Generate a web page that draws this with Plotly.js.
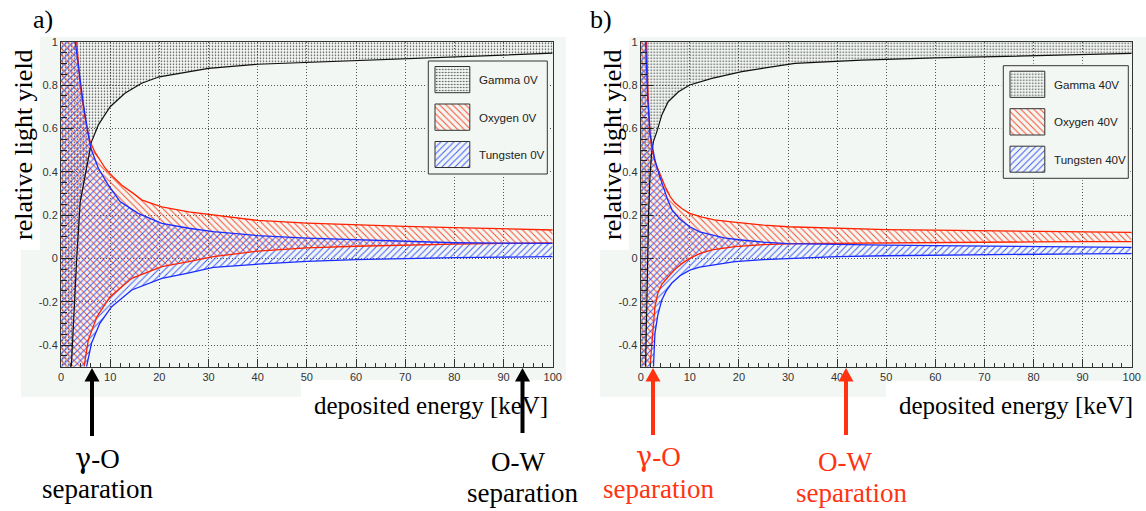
<!DOCTYPE html>
<html><head><meta charset="utf-8">
<script src="https://cdn.plot.ly/plotly-3.0.1.min.js"></script>
<style>html,body{margin:0;padding:0;background:#fff}</style>
</head><body>
<div id="chart" style="width:1146px;height:511px"></div>
<script>
// ---------------- DATA ----------------
// Panel a) : 0V
const gammaA_x  = [0, 2.1, 2.6, 3.2, 3.9, 4.5, 5.2, 6.2, 7.6, 10, 13, 16.4, 20, 26, 30, 40, 50, 60, 70, 80, 90, 100];
const gammaA_lo = [-0.5, -0.5, -0.25, 0.0, 0.26, 0.335, 0.416, 0.538, 0.616, 0.70, 0.762, 0.808, 0.838, 0.862, 0.877, 0.896, 0.905, 0.913, 0.922, 0.932, 0.940, 0.947];
const gammaTopX = [0, 100];
const gammaTop  = [1, 1];

const oxyA_hiX = [0, 3.2, 3.9, 4.9, 5.9, 6.9, 9, 10, 12.3, 14.7, 16.4, 18.4, 20.5, 26, 31, 40, 50, 60, 70, 80, 90, 100];
const oxyA_hi  = [1, 1, 0.80, 0.646, 0.54, 0.49, 0.416, 0.39, 0.339, 0.30, 0.27, 0.254, 0.238, 0.215, 0.20, 0.175, 0.163, 0.154, 0.148, 0.142, 0.136, 0.131];
const oxyA_loX = [0, 4.7, 5.55, 7.3, 10, 14.4, 20.5, 26, 31, 40, 50, 60, 70, 80, 90, 100];
const oxyA_lo  = [-0.5, -0.5, -0.377, -0.27, -0.177, -0.092, -0.038, -0.015, 0.008, 0.033, 0.048, 0.056, 0.062, 0.066, 0.069, 0.071];

const tunA_hiX = [0, 2.9, 3.5, 4.5, 5.55, 6.2, 7.6, 9.6, 12, 15.7, 20.5, 26, 31, 40, 50, 60, 70, 80, 90, 100];
const tunA_hi  = [1, 1, 0.89, 0.72, 0.57, 0.50, 0.416, 0.339, 0.262, 0.208, 0.162, 0.139, 0.123, 0.105, 0.093, 0.085, 0.078, 0.072, 0.070, 0.069];
const tunA_loX = [0, 5.2, 6.2, 7.9, 10.3, 14.4, 20.5, 25.6, 31, 40, 50, 60, 70, 80, 90, 100];
const tunA_lo  = [-0.5, -0.5, -0.392, -0.30, -0.223, -0.146, -0.092, -0.069, -0.042, -0.027, -0.014, -0.006, 0.0, 0.003, 0.006, 0.008];

// Panel b) : 40V
const gammaB_x  = [0, 1.0, 1.3, 1.6, 1.9, 2.2, 2.6, 3.3, 4.3, 5.6, 7.7, 10, 14.5, 20.6, 31.4, 45, 60, 70, 80, 90, 100];
const gammaB_lo = [-0.5, -0.5, -0.1, 0.2, 0.38, 0.48, 0.54, 0.585, 0.662, 0.723, 0.769, 0.80, 0.831, 0.862, 0.90, 0.915, 0.925, 0.931, 0.937, 0.942, 0.946];

const oxyB_hiX = [0, 1.2, 1.5, 1.9, 2.2, 2.9, 3.9, 5.0, 6.0, 7.0, 8.5, 10, 12.5, 15, 19, 25, 30, 40, 50, 60, 70, 80, 90, 100];
const oxyB_hi  = [1, 1, 0.75, 0.58, 0.515, 0.446, 0.39, 0.33, 0.285, 0.255, 0.228, 0.208, 0.19, 0.178, 0.167, 0.153, 0.146, 0.138, 0.133, 0.130, 0.127, 0.124, 0.122, 0.120];
const oxyB_loX = [0, 1.9, 2.3, 2.9, 3.5, 4.3, 5.6, 7, 8.5, 10, 12, 14.5, 19.2, 25, 31.4, 40, 50, 60, 70, 80, 90, 100];
const oxyB_lo  = [-0.5, -0.5, -0.38, -0.223, -0.16, -0.12, -0.085, -0.05, -0.022, 0.0, 0.022, 0.039, 0.054, 0.063, 0.068, 0.070, 0.071, 0.073, 0.075, 0.076, 0.077, 0.077];

const tunB_hiX = [0, 1.0, 1.4, 1.9, 2.9, 3.7, 4.6, 5.5, 6.4, 8, 10, 12, 14.5, 17, 20, 25, 30, 40, 50, 60, 70, 80, 90, 100];
const tunB_hi  = [1, 1, 0.75, 0.577, 0.454, 0.39, 0.331, 0.27, 0.223, 0.18, 0.146, 0.122, 0.108, 0.095, 0.086, 0.075, 0.068, 0.063, 0.061, 0.059, 0.057, 0.055, 0.053, 0.051];
const tunB_loX = [0, 2.6, 2.9, 3.5, 4.3, 5.2, 6.3, 8, 10, 12, 14.5, 19.2, 25, 31.4, 40, 50, 60, 70, 80, 90, 100];
const tunB_lo  = [-0.5, -0.5, -0.346, -0.26, -0.192, -0.15, -0.115, -0.08, -0.054, -0.04, -0.031, -0.015, -0.006, 0.0, 0.008, 0.012, 0.015, 0.018, 0.02, 0.021, 0.022];

// Tick labels and texts
const xTickVals = [0, 10, 20, 30, 40, 50, 60, 70, 80, 90, 100];
const xTickText = ['0', '10', '20', '30', '40', '50', '60', '70', '80', '90', '100'];
const yTickVals = [-0.4, -0.2, 0, 0.2, 0.4, 0.6, 0.8, 1];
const yTickText = ['-0.4', '-0.2', '0', '0.2', '0.4', '0.6', '0.8', '1'];
const legendLabelsA = ['Gamma 0V', 'Oxygen 0V', 'Tungsten 0V'];
const legendLabelsB = ['Gamma 40V', 'Oxygen 40V', 'Tungsten 40V'];

// ---------------- STYLE / LAYOUT ----------------
const W = 1146, H = 511;
const P = px => px / W, Q = py => 1 - py / H;
const LIGHT = '#f3f7f3';
const RED = '#ff2200', BLUE = '#1a2cff';
const AR_RED = '#ff3311';

const patGamma = {shape: '.', fgcolor: '#333333', size: 3, solidity: 0.22, fgopacity: 0.9};
const patOxy   = {shape: '\\', fgcolor: '#ff4020', size: 4.6, solidity: 0.21, fgopacity: 0.95};
const patTun   = {shape: '/', fgcolor: '#3050ff', size: 4.6, solidity: 0.21, fgopacity: 0.95};

function poly(hx, hy, lx, ly) {
  return {x: hx.concat(lx.slice().reverse()), y: hy.concat(ly.slice().reverse())};
}
function bandTrace(xa, ya, pg, pat) {
  return {type: 'scatter', mode: 'lines', x: pg.x, y: pg.y, xaxis: xa, yaxis: ya,
    fill: 'toself', fillcolor: 'rgba(0,0,0,0)', fillpattern: pat,
    line: {width: 0, color: 'rgba(0,0,0,0)'}, hoverinfo: 'skip', showlegend: false};
}
function lineTrace(xa, ya, x, y, color, w) {
  return {type: 'scatter', mode: 'lines', x: x.slice(1), y: y.slice(1), xaxis: xa, yaxis: ya,
    line: {color: color, width: w || 1.3}, hoverinfo: 'skip', showlegend: false};
}

const traces = [];
function panel(xa, ya, g, gx, ohx, oh, olx, ol, thx, th, tlx, tl) {
  traces.push(bandTrace(xa, ya, poly(gammaTopX, gammaTop, gx, g), patGamma));
  traces.push(bandTrace(xa, ya, poly(ohx, oh, olx, ol), patOxy));
  traces.push(bandTrace(xa, ya, poly(thx, th, tlx, tl), patTun));
  traces.push(lineTrace(xa, ya, gx, g, '#111111', 1.2));
  traces.push(lineTrace(xa, ya, ohx, oh, RED));
  traces.push(lineTrace(xa, ya, olx, ol, RED));
  traces.push(lineTrace(xa, ya, thx, th, BLUE));
  traces.push(lineTrace(xa, ya, tlx, tl, BLUE));
}
panel('x', 'y', gammaA_lo, gammaA_x, oxyA_hiX, oxyA_hi, oxyA_loX, oxyA_lo, tunA_hiX, tunA_hi, tunA_loX, tunA_lo);
panel('x2', 'y2', gammaB_lo, gammaB_x, oxyB_hiX, oxyB_hi, oxyB_loX, oxyB_lo, tunB_hiX, tunB_hi, tunB_loX, tunB_lo);

// Legends (drawn on overlay axes in box-local pixel units)
const legA = {x0: 428.3, y0: 61, x1: 547.3, y1: 174};
const legB = {x0: 1003.3, y0: 65.7, x1: 1128.3, y1: 178.3};
const swX = [6.7, 41.5];
const swRows = [[5.5, 31.7], [43, 69.3], [80.5, 106.5]];
const swPats = [patGamma, patOxy, patTun];
const annotations = [];
function legend(xa, ya, L, labels) {
  const w = L.x1 - L.x0, h = L.y1 - L.y0;
  traces.push({type: 'scatter', mode: 'lines', xaxis: xa, yaxis: ya,
    x: [0, w, w, 0, 0], y: [0, 0, h, h, 0], fill: 'toself', fillcolor: LIGHT,
    line: {color: '#333333', width: 1}, hoverinfo: 'skip', showlegend: false});
  swRows.forEach((r, i) => {
    traces.push({type: 'scatter', mode: 'lines', xaxis: xa, yaxis: ya,
      x: [swX[0], swX[1], swX[1], swX[0], swX[0]], y: [r[0], r[0], r[1], r[1], r[0]],
      fill: 'toself', fillcolor: 'rgba(0,0,0,0)', fillpattern: swPats[i],
      line: {color: '#333333', width: 1}, hoverinfo: 'skip', showlegend: false});
    annotations.push({xref: xa, yref: ya, x: 48.5, y: (r[0] + r[1]) / 2, text: labels[i],
      showarrow: false, xanchor: 'left', yanchor: 'middle',
      font: {family: 'Liberation Sans, Arial, sans-serif', size: 11.6, color: '#222'}});
  });
}
legend('x3', 'y3', legA, legendLabelsA);
legend('x4', 'y4', legB, legendLabelsB);

function legAxes(L) {
  const w = L.x1 - L.x0, h = L.y1 - L.y0;
  return [
    {domain: [P(L.x0 - 2), P(L.x1 + 2)], range: [-2, w + 2], visible: false, fixedrange: true},
    {domain: [Q(L.y1 + 2), Q(L.y0 - 2)], range: [h + 2, -2], visible: false, fixedrange: true}
  ];
}
const [lxA, lyA] = legAxes(legA), [lxB, lyB] = legAxes(legB);
lxA.anchor = 'y3'; lyA.anchor = 'x3'; lxB.anchor = 'y4'; lyB.anchor = 'x4';

const tickFont = {family: 'Liberation Sans, Arial, sans-serif', size: 11, color: '#333'};
function xAxis(dom, anchor) {
  return {domain: dom, anchor: anchor, range: [0, 100], tickmode: 'array', tickvals: xTickVals, ticktext: xTickText,
    ticks: 'inside', ticklen: 8, tickcolor: '#333', tickwidth: 1, tickfont: tickFont,
    minor: {ticks: 'inside', ticklen: 4, tickcolor: '#333', dtick: 2, tick0: 0, showgrid: false},
    showgrid: true, gridcolor: '#555', griddash: '1px,2px', gridwidth: 1, zeroline: false,
    showline: true, linecolor: '#333', linewidth: 1, mirror: true, fixedrange: true};
}
function yAxis(anchor) {
  return {domain: [Q(366.7), Q(41.7)], anchor: anchor, range: [-0.5, 1], tickmode: 'array', tickvals: yTickVals, ticktext: yTickText,
    ticks: 'inside', ticklen: 12, tickcolor: '#222', tickwidth: 1, tickfont: tickFont,
    minor: {ticks: 'inside', ticklen: 6, tickcolor: '#222', dtick: 0.05, tick0: 0, showgrid: false},
    showgrid: true, gridcolor: '#555', griddash: '1px,2px', gridwidth: 1, zeroline: false,
    showline: true, linecolor: '#333', linewidth: 1, mirror: true, fixedrange: true};
}

const serif = 'Liberation Serif, Times New Roman, serif';
const GAMMA_O = '<span style="font-family:DejaVu Serif">γ</span>-O';
function txt(px, py, s, size, color, angle) {
  annotations.push({xref: 'paper', yref: 'paper', x: P(px), y: Q(py), text: s, showarrow: false,
    xanchor: 'center', yanchor: 'middle', textangle: angle || 0,
    font: {family: serif, size: size, color: color}});
}
txt(43, 19, 'a)', 26, '#000');
txt(601, 19, 'b)', 26, '#000');
txt(24, 145, 'relative light yield', 26, '#000', -90);
txt(613, 145, 'relative light yield', 26, '#000', -90);
txt(430.5, 405, 'deposited energy [keV]', 25, '#000');
txt(1015.5, 405, 'deposited energy [keV]', 25, '#000');
txt(97, 458, GAMMA_O, 27, '#000');
txt(97, 489, 'separation', 27, '#000');
txt(518, 462, 'O-W', 27, '#000');
txt(522, 493, 'separation', 27, '#000');
txt(658, 456, GAMMA_O, 27, AR_RED);
txt(659, 489, 'separation', 27, AR_RED);
txt(845, 462, 'O-W', 27, AR_RED);
txt(851, 493, 'separation', 27, AR_RED);

const shapes = [];
function rect(x0, y0, x1, y1, color) {
  shapes.push({type: 'rect', xref: 'paper', yref: 'paper', x0: P(x0), x1: P(x1), y0: Q(y1), y1: Q(y0),
    fillcolor: color, line: {width: 0}, layer: 'below'});
}
rect(21, 37, 566, 397, LIGHT);
rect(0, 37, 40, 250, '#ffffff');
rect(301, 380, 566, 397, '#ffffff');
rect(600, 37, 1146, 397, LIGHT);
rect(590, 37, 629, 250, '#ffffff');
rect(886, 381, 1146, 397, '#ffffff');

function arrow(x, tipY, tailY, color) {
  shapes.push({type: 'line', xref: 'paper', yref: 'paper', x0: P(x), x1: P(x), y0: Q(tailY), y1: Q(tipY + 12),
    line: {color: color, width: 4}, layer: 'above'});
  shapes.push({type: 'path', xref: 'paper', yref: 'paper',
    path: 'M ' + P(x - 7.5) + ' ' + Q(tipY + 13.5) + ' L ' + P(x + 7.5) + ' ' + Q(tipY + 13.5) + ' L ' + P(x) + ' ' + Q(tipY) + ' Z',
    fillcolor: color, line: {width: 0}, layer: 'above'});
}
arrow(92, 368, 436, '#000');
arrow(522.5, 368, 433, '#000');
arrow(653, 368, 435, AR_RED);
arrow(846, 368, 435, AR_RED);

const layout = {
  width: W, height: H, margin: {l: 0, r: 0, t: 0, b: 0},
  paper_bgcolor: '#ffffff', plot_bgcolor: LIGHT, showlegend: false,
  xaxis: xAxis([P(61), P(552.7)], 'y'),
  yaxis: yAxis('x'),
  xaxis2: xAxis([P(640.7), P(1131.7)], 'y2'),
  yaxis2: yAxis('x2'),
  xaxis3: lxA, yaxis3: lyA, xaxis4: lxB, yaxis4: lyB,
  shapes: shapes, annotations: annotations
};
Plotly.newPlot('chart', traces, layout, {staticPlot: true, displayModeBar: false});
</script>
</body></html>
